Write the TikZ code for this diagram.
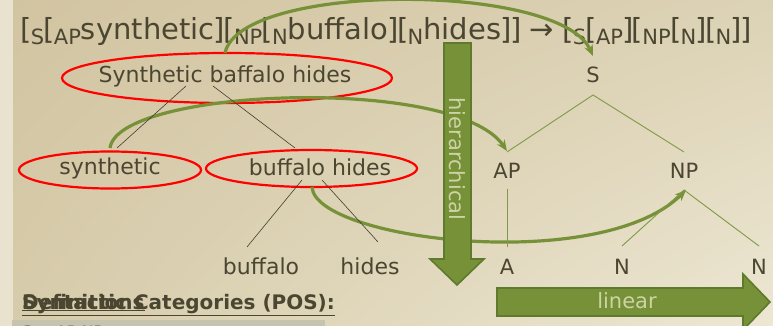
\documentclass[tikz,border=0pt]{standalone}
\usepackage{fontspec}
\setmainfont{DejaVu Sans}
\usetikzlibrary{shapes.geometric,arrows.meta,shadings}
\definecolor{bgA}{HTML}{D2C4A1}
\definecolor{bgB}{HTML}{DCD2B5}
\definecolor{bgC}{HTML}{D6CBAA}
\definecolor{bgD}{HTML}{EDE7D3}
\definecolor{strip}{HTML}{E9E2CE}
\definecolor{ink}{HTML}{4B4631}
\definecolor{grn}{HTML}{779139}
\definecolor{grnD}{HTML}{5E7A2C}
\definecolor{grnL}{HTML}{CDD3A4}
\definecolor{treeG}{HTML}{7F9A45}
\definecolor{rulebg}{HTML}{C6C4AE}
\newcommand\subx[1]{\raisebox{-5pt}{\fontsize{21}{21}\selectfont #1}}
\newcommand\lbk{\kern-0.8pt[\kern-0.8pt}
\newcommand\rbk{\kern-0.8pt]\kern-0.8pt}
\tikzset{
  lbl/.style={text=ink, font=\fontsize{21}{24}\selectfont, inner sep=0pt},
  elbl/.style={text=ink, font=\fontsize{22}{24}\selectfont, inner sep=0pt},
  redell/.style={ellipse, draw=red, line width=2.2pt, inner sep=0pt},
  blk/.style={draw=ink!90!black, line width=0.6pt},
  tline/.style={draw=treeG, line width=0.9pt},
  curv/.style={draw=grn, line width=3.2pt, -{Stealth[length=11pt,width=9pt]}},
  barr/.style={fill=grn, draw=grnD, line width=1.6pt, line join=miter},
  bartxt/.style={text=grnL, font=\fontsize{21}{24}\selectfont, inner sep=0pt},
  headtxt/.style={anchor=base west, inner sep=0pt, text=ink, font=\bfseries\fontsize{20}{22}\selectfont}
}
\begin{document}
\begin{tikzpicture}[x=1pt,y=-1pt]
\useasboundingbox (0,0) rectangle (773,326);
% background
\shade[upper left=bgA, upper right=bgB, lower left=bgC, lower right=bgD] (0,0) rectangle (773,326);
\fill[strip] (0,0) rectangle (13,326);
% top formula
\node[anchor=base west, inner sep=0pt, text=ink, font=\fontsize{29}{32}\selectfont] (formula) at (21,40)
 {\lbk\subx{S}\lbk\subx{AP}synthetic\rbk\lbk\subx{NP}\lbk\subx{N}buffalo\rbk\lbk\subx{N}hides\rbk\rbk{} → \lbk\subx{S}\lbk\subx{AP}\rbk\lbk\subx{NP}\lbk\subx{N}\rbk\lbk\subx{N}\rbk\rbk};
% left tree
\node[redell, minimum width=330pt, minimum height=50pt] (sbh) at (227,78) {};
\node[elbl] (sbht) at (225,76) {Synthetic baffalo hides};
\node[redell, minimum width=182pt, minimum height=37pt] (syn) at (110,170) {};
\node[elbl] (synt) at (110,168) {synthetic};
\node[redell, minimum width=211pt, minimum height=37pt] (bh) at (311.5,168.5) {};
\node[elbl] (bht) at (320,167) {buffalo hides};
\node[elbl] (buf) at (261,266) {buffalo};
\node[elbl] (hid) at (370,266) {hides};
% right tree
\node[lbl] (S) at (593,75) {S};
\node[lbl] (AP) at (507,171) {AP};
\node[lbl] (NP) at (684,171) {NP};
\node[lbl] (A) at (507,267) {A};
\node[lbl] (N1) at (622,267) {N};
\node[lbl] (N2) at (759,267) {N};
% coordinates for tree lines
\coordinate (sbhL) at (186,86);
\coordinate (sbhR) at (213,86);
\coordinate (synT) at (117,148);
\coordinate (bhT) at (295,148);
\coordinate (bhL) at (302,180);
\coordinate (bhR) at (322,180);
\coordinate (bufT) at (247,247);
\coordinate (hidT) at (378,242);
\coordinate (Sb) at (593,95);
\coordinate (APt) at (507,152);
\coordinate (NPt) at (684,152);
\coordinate (APb) at (507,189);
\coordinate (NPb) at (684,190);
\coordinate (At) at (507,247);
\coordinate (N1t) at (622,246);
\coordinate (N2t) at (759,246);
% curved arrows
\coordinate (c1s) at (225,53);
\coordinate (c1e) at (593,56);
\coordinate (c2s) at (110,148);
\coordinate (c2e) at (507,151);
\coordinate (c3s) at (312,187);
\coordinate (c3e) at (686,190);
\draw[curv] (c1s) .. controls (240,-18) and (560,-18) .. (c1e);
\draw[curv] (c2s) .. controls (118,88) and (455,75) .. (c2e);
\draw[curv] (c3s) .. controls (315,240) and (600,275) .. (c3e);
% tree lines
\draw[blk] (sbhL) -- (synT);
\draw[blk] (sbhR) -- (bhT);
\draw[blk] (bhL) -- (bufT);
\draw[blk] (bhR) -- (hidT);
\draw[tline] (APt) -- (Sb) -- (NPt);
\draw[tline] (APb) -- (At);
\draw[tline] (N1t) -- (NPb) -- (N2t);
% block arrows
\draw[barr] (444,43) -- (471,43) -- (471,259) -- (484,259) -- (457,285) -- (430,259) -- (444,259) -- cycle;
\node[bartxt, rotate=-90] (hier) at (457,159) {hierarchical};
\draw[barr] (497,288) -- (743,288) -- (743,274) -- (770,302) -- (743,330) -- (743,316) -- (497,316) -- cycle;
\node[bartxt] (lin) at (627,301) {linear};
% bottom-left text
\node[headtxt] (syncat) at (22,309) {\underline{Syntactic Categories (POS):}};
\node[headtxt] (defs) at (22,309) {\underline{Definitions}};
\begin{scope}
\clip (12,320) rectangle (325,326);
\fill[rulebg] (12,320) rectangle (325,326);
\node[anchor=base west, inner sep=0pt, text=ink!70, font=\fontsize{16}{18}\selectfont] (rule) at (22,337) {S → AP NP};
\end{scope}
\end{tikzpicture}
\end{document}
